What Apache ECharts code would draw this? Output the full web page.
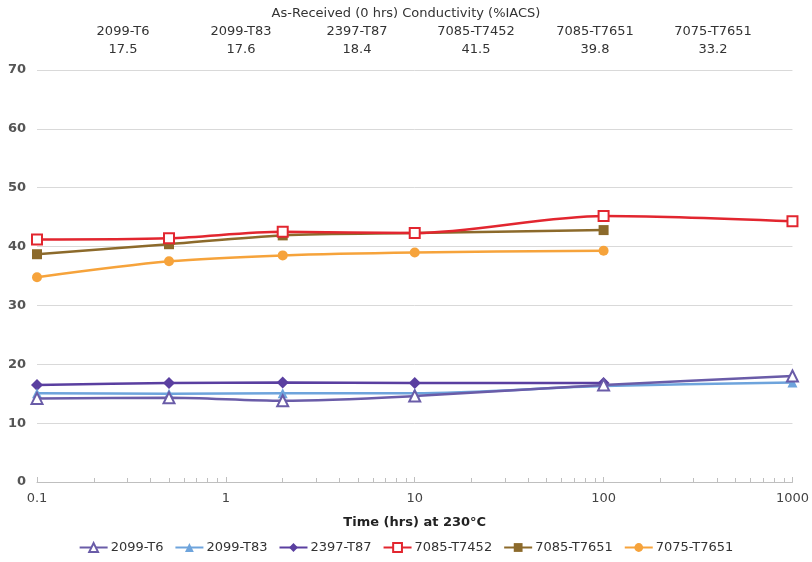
<!DOCTYPE html>
<html>
<head>
<meta charset="utf-8">
<script src="https://cdn.jsdelivr.net/npm/echarts@6/dist/echarts.min.js"></script>
<style>html,body{margin:0;padding:0;background:#fff}#c{width:812px;height:562px}</style>
</head>
<body>
<div id="c"></div>
<script>
// ---- data ----
const hours = [0.1, 0.5, 2, 10, 100, 1000];
const s2099T6   = [14.2, 14.3, 13.8, 14.6, 16.5, 18.0];
const s2099T83  = [15.1, 15.0, 15.1, 15.1, 16.3, 16.9];
const s2397T87  = [16.5, 16.8, 16.9, 16.8, 16.8];
const s7085T7452 = [41.2, 41.4, 42.5, 42.3, 45.2, 44.3];
const s7085T7651 = [38.7, 40.4, 41.9, 42.3, 42.8];
const s7075T7651 = [34.8, 37.5, 38.5, 39.0, 39.3];
const seriesNames = ['2099-T6', '2099-T83', '2397-T87', '7085-T7452', '7085-T7651', '7075-T7651'];
const headerTitle = 'As-Received (0 hrs) Conductivity (%IACS)';
const headerNames = ['2099-T6', '2099-T83', '2397-T87', '7085-T7452', '7085-T7651', '7075-T7651'];
const headerValues = ['17.5', '17.6', '18.4', '41.5', '39.8', '33.2'];
const xTitle = 'Time (hrs) at 230°C';

const pairs = vals => vals.map((v, i) => [hours[i], v]);
const FONT = 'DejaVu Sans';

const styles = [
  {color: '#6a5ca8', symbol: 'emptyTriangle', size: 11},
  {color: '#6ea4dc', symbol: 'triangle', size: 10},
  {color: '#5a3fa0', symbol: 'diamond', size: 12},
  {color: '#e2262f', symbol: 'emptyRect', size: 10},
  {color: '#8c6a2b', symbol: 'rect', size: 10},
  {color: '#f6a33b', symbol: 'circle', size: 10}
];
const allVals = [s2099T6, s2099T83, s2397T87, s7085T7452, s7085T7651, s7075T7651];

const chart = echarts.init(document.getElementById('c'), null, {renderer: 'canvas'});

const headerX = [123, 241, 357, 476, 595, 713];
const graphics = [{
  type: 'text', left: 'center', top: 7,
  style: {text: headerTitle, font: '13px "' + FONT + '"', fill: '#333'}
}];
headerNames.forEach((n, i) => {
  graphics.push({type: 'text', x: headerX[i], y: 25,
    style: {text: n, font: '13px "' + FONT + '"', fill: '#333', align: 'center'}});
  graphics.push({type: 'text', x: headerX[i], y: 43,
    style: {text: headerValues[i], font: '13px "' + FONT + '"', fill: '#333', align: 'center'}});
});

chart.setOption({
  animation: false,
  backgroundColor: '#fff',
  graphic: graphics,
  grid: {left: 37, right: 17, top: 70, bottom: 80, containLabel: false},
  legend: {
    bottom: 3, left: 'center',
    itemWidth: 28, itemHeight: 11, itemGap: 11,
    textStyle: {fontFamily: FONT, fontSize: 13, color: '#333', padding: [0, 0, 0, -2]},
    data: seriesNames
  },
  xAxis: {
    type: 'log', logBase: 10, min: 0.1, max: 1000,
    name: xTitle, nameLocation: 'middle', nameGap: 34,
    nameTextStyle: {fontFamily: FONT, fontSize: 13, fontWeight: 'bold', color: '#222'},
    axisLine: {show: true, lineStyle: {color: '#bfbfbf'}},
    axisTick: {show: true, inside: true, length: 5, lineStyle: {color: '#bfbfbf'}},
    minorTick: {show: true, splitNumber: 9, length: 4, lineStyle: {color: '#bfbfbf'}},
    splitLine: {show: false},
    axisLabel: {fontFamily: FONT, fontSize: 13, color: '#444', margin: 10,
      formatter: v => String(+(+v).toPrecision(6))}
  },
  yAxis: {
    type: 'value', min: 0, max: 70, interval: 10,
    axisLine: {show: false}, axisTick: {show: false},
    splitLine: {lineStyle: {color: '#d9d9d9'}},
    axisLabel: {fontFamily: FONT, fontSize: 13, color: '#555', fontWeight: 'bold', margin: 11}
  },
  series: seriesNames.map((n, i) => ({
    name: n, type: 'line', data: pairs(allVals[i]),
    smooth: 0.3,
    symbol: styles[i].symbol, symbolSize: styles[i].size,
    showAllSymbol: true,
    itemStyle: {color: styles[i].color, borderWidth: 1.5},
    lineStyle: {color: styles[i].color, width: 2.5},
    z: 10 - i
  }))
});
</script>
</body>
</html>
